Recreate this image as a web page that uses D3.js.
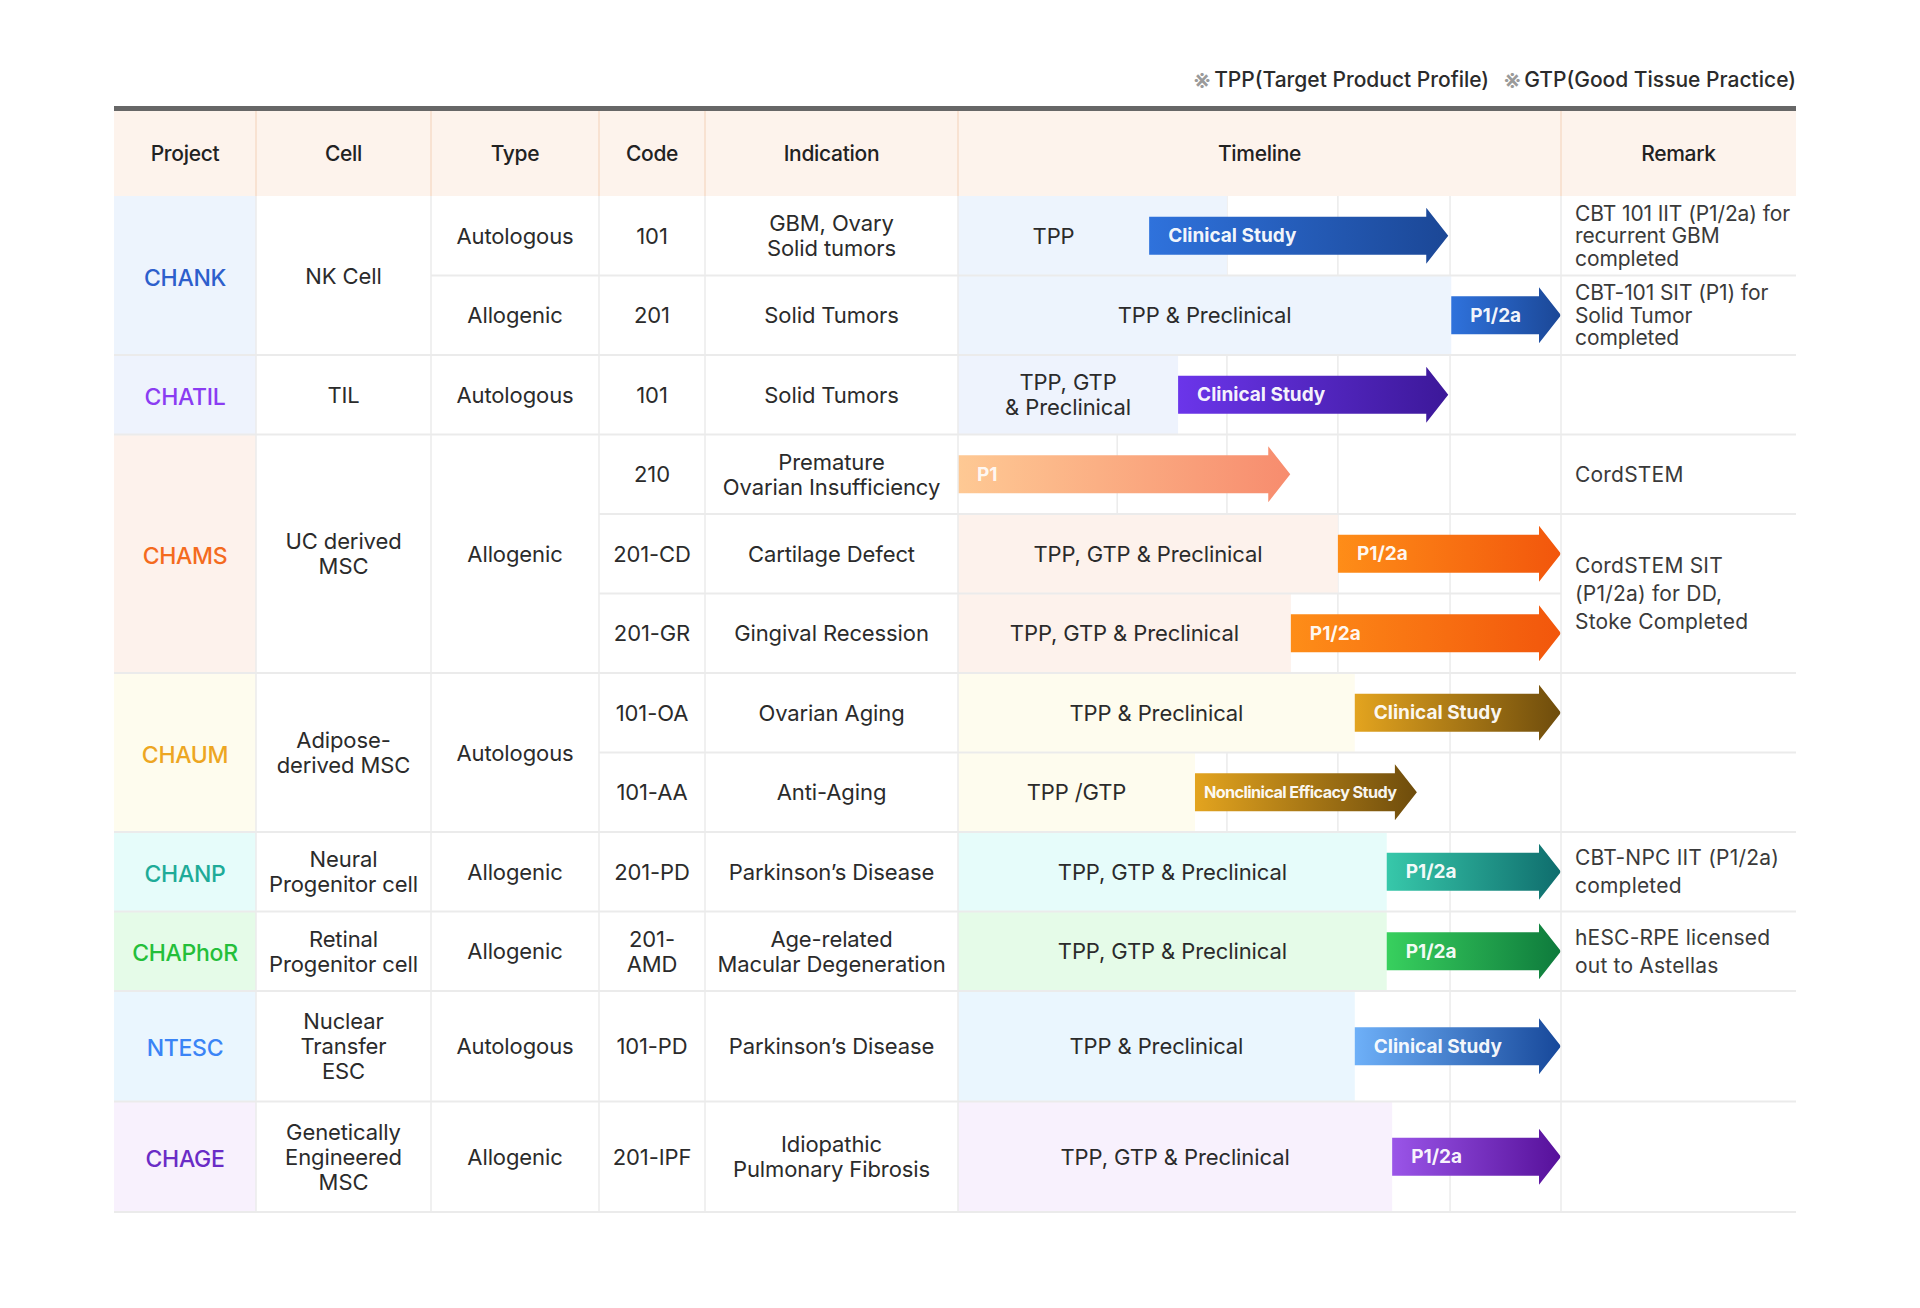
<!DOCTYPE html>
<html>
<head>
<meta charset="utf-8">
<script src="https://cdn.jsdelivr.net/npm/d3@7"></script>
<style>
  html, body { margin: 0; padding: 0; background: #fff; }
  svg { display: block; font-family: "Inter", "Noto Sans", sans-serif; }
</style>
</head>
<body>
<div id="chart"></div>
<script>
// ---- data ----
const headers = ["Project", "Cell", "Type", "Code", "Indication", "Timeline", "Remark"];
const legendItems = ["TPP(Target Product Profile)", "GTP(Good Tissue Practice)"];

const projectNames = ["CHANK", "CHATIL", "CHAMS", "CHAUM", "CHANP", "CHAPhoR", "NTESC", "CHAGE"];
const projectRowCounts = [2, 1, 3, 2, 1, 1, 1, 1];
const cellLabels = ["NK Cell", "TIL", "UC derived\nMSC", "Adipose-\nderived MSC", "Neural\nProgenitor cell",
  "Retinal\nProgenitor cell", "Nuclear\nTransfer\nESC", "Genetically\nEngineered\nMSC"];

// [label, rows spanned]
const typeLabels = [["Autologous", 1], ["Allogenic", 1], ["Autologous", 1], ["Allogenic", 3], ["Autologous", 2],
  ["Allogenic", 1], ["Allogenic", 1], ["Autologous", 1], ["Allogenic", 1]];

const codes = ["101", "201", "101", "210", "201-CD", "201-GR", "101-OA", "101-AA", "201-PD", "201-\nAMD", "101-PD", "201-IPF"];
const indications = ["GBM, Ovary\nSolid tumors", "Solid Tumors", "Solid Tumors", "Premature\nOvarian Insufficiency",
  "Cartilage Defect", "Gingival Recession", "Ovarian Aging", "Anti-Aging", "Parkinson\u2019s Disease",
  "Age-related\nMacular Degeneration", "Parkinson\u2019s Disease", "Idiopathic\nPulmonary Fibrosis"];

// timeline, in % of the timeline column
const timelineGrid = [26.4, 44.6, 63.0, 81.6];
const stageLabels = ["TPP", "TPP & Preclinical", "TPP, GTP\n& Preclinical", "", "TPP, GTP & Preclinical",
  "TPP, GTP & Preclinical", "TPP & Preclinical", "TPP /GTP", "TPP, GTP & Preclinical", "TPP, GTP & Preclinical",
  "TPP & Preclinical", "TPP, GTP & Preclinical"];
const stageEnd = [44.6, 81.8, 36.5, 0, 63.0, 55.2, 65.8, 39.3, 71.1, 71.1, 65.8, 72.0];
const arrowStart = [31.7, 81.8, 36.5, 0, 63.0, 55.2, 65.8, 39.3, 71.1, 71.1, 65.8, 72.0];
const arrowEnd = [81.3, 100, 81.3, 55.1, 100, 100, 100, 76.1, 100, 100, 100, 100];
const arrowLabels = ["Clinical Study", "P1/2a", "Clinical Study", "P1", "P1/2a", "P1/2a", "Clinical Study",
  "Nonclinical Efficacy Study", "P1/2a", "P1/2a", "Clinical Study", "P1/2a"];

// [text, rows spanned]
const remarks = [["CBT 101 IIT (P1/2a) for\nrecurrent GBM\ncompleted", 1], ["CBT-101 SIT (P1) for\nSolid Tumor\ncompleted", 1],
  ["", 1], ["CordSTEM", 1], ["CordSTEM SIT\n(P1/2a) for DD,\nStoke Completed", 2], ["", 1], ["", 1],
  ["CBT-NPC IIT (P1/2a)\ncompleted", 1], ["hESC-RPE licensed\nout to Astellas", 1], ["", 1], ["", 1]];

// ---- styles ----
const palette = {
  CHANK:   { text: "#2d5fcc", bg: "#edf4fd", a0: "#2f72dc", a1: "#1b4796" },
  CHATIL:  { text: "#8a3cf2", bg: "#eef3fd", a0: "#6b35ea", a1: "#3c1899" },
  CHAMS:   { text: "#f46b1e", bg: "#fdf2ec", a0: "#fe8d18", a1: "#f2560c", l0: "#fec994", l1: "#f78c6e" },
  CHAUM:   { text: "#eda622", bg: "#fefcee", a0: "#e3a41f", a1: "#6e4c0c" },
  CHANP:   { text: "#1eab98", bg: "#e6fcfa", a0: "#37c8aa", a1: "#0f6d6d" },
  CHAPhoR: { text: "#24bf3a", bg: "#e5fbe8", a0: "#38d05e", a1: "#0e7a3c" },
  NTESC:   { text: "#3a84f6", bg: "#eaf6fe", a0: "#6eb0f8", a1: "#17489a" },
  CHAGE:   { text: "#6a2cc6", bg: "#f8f1fd", a0: "#9a55e8", a1: "#56109a" }
};
const colX = [114, 256, 431, 599, 705, 958, 1561, 1796];
const headTop = 110, headBottom = 196;
const textColor = "#2b2b2b", gridColor = "#ebebeb";
const bodyFont = 22;

const W = 1920, H = 1308;
const svg = d3.select("#chart").append("svg").attr("width", W).attr("height", H);
const defs = svg.append("defs");

// row -> project index
const rowProject = [];
projectRowCounts.forEach((n, p) => { for (let i = 0; i < n; i++) rowProject.push(p); });
const nRows = rowProject.length;

// row heights: single-row projects whose cell label needs 3 lines get taller rows
const rowH = rowProject.map(p => (projectRowCounts[p] === 1 && cellLabels[p].split("\n").length >= 3) ? 110.5 : 79.5);
const rowY = [headBottom];
rowH.forEach((h, i) => rowY.push(rowY[i] + h));
const bodyBottom = rowY[nRows];

// spans -> cells
function spanCells(spans) {
  let r = 0;
  return spans.map(([label, n]) => { const c = { label, r0: r, r1: r + n }; r += n; return c; });
}
const projCells = spanCells(projectNames.map((n, i) => [n, projectRowCounts[i]]));
const cellCells = spanCells(cellLabels.map((n, i) => [n, projectRowCounts[i]]));
const typeCells = spanCells(typeLabels);
const codeCells = spanCells(codes.map(c => [c, 1]));
const indCells = spanCells(indications.map(c => [c, 1]));
const remarkCells = spanCells(remarks);

const xT = d3.scaleLinear().domain([0, 100]).range([colX[5], colX[6]]);

function multiText(g, text, x, yc, lh, attrs) {
  const lines = text.split("\n");
  const t = g.append("text").attr("x", x).attr("y", yc);
  Object.entries(attrs || {}).forEach(([k, v]) => t.attr(k, v));
  lines.forEach((ln, i) => {
    t.append("tspan").attr("x", x).attr("y", yc + (i - (lines.length - 1) / 2) * lh)
      .attr("dominant-baseline", "central").text(ln);
  });
  return t;
}

// ---- header ----
svg.append("rect").attr("x", colX[0]).attr("y", headTop).attr("width", colX[7] - colX[0])
  .attr("height", headBottom - headTop).attr("fill", "#fdf3ec");
colX.slice(1, 7).forEach(x => {
  svg.append("line").attr("x1", x).attr("x2", x).attr("y1", headTop).attr("y2", headBottom)
    .attr("stroke", "#f6dcca").attr("stroke-width", 1.5);
});
headers.forEach((h, i) => {
  svg.append("text").attr("x", (colX[i] + colX[i + 1]) / 2).attr("y", (headTop + headBottom) / 2)
    .attr("text-anchor", "middle").attr("dominant-baseline", "central")
    .attr("font-size", 21).attr("font-weight", 500).attr("letter-spacing", -0.3)
    .attr("fill", "#222").text(h);
});

// ---- project column backgrounds ----
projCells.forEach(c => {
  svg.append("rect").attr("x", colX[0]).attr("y", rowY[c.r0]).attr("width", colX[1] - colX[0])
    .attr("height", rowY[c.r1] - rowY[c.r0]).attr("fill", palette[c.label].bg);
});

// ---- timeline grid ----
svg.selectAll(".tgrid").data(timelineGrid).join("line").attr("class", "tgrid")
  .attr("x1", d => xT(d)).attr("x2", d => xT(d)).attr("y1", headBottom).attr("y2", bodyBottom)
  .attr("stroke", gridColor).attr("stroke-width", 1.5);

// ---- timeline stages & arrows ----
const barH = 38, headHgt = 56, headLen = 22;
for (let r = 0; r < nRows; r++) {
  const pal = palette[projectNames[rowProject[r]]];
  const yc = (rowY[r] + rowY[r + 1]) / 2;
  if (stageEnd[r] > 0) {
    svg.append("rect").attr("x", xT(0)).attr("y", rowY[r]).attr("width", xT(stageEnd[r]) - xT(0))
      .attr("height", rowH[r]).attr("fill", pal.bg);
  }
  const light = arrowLabels[r] === "P1" && pal.l0;
  const gid = "grad" + r;
  const grad = defs.append("linearGradient").attr("id", gid).attr("x1", 0).attr("x2", 1).attr("y1", 0).attr("y2", 0);
  grad.append("stop").attr("offset", 0).attr("stop-color", light ? pal.l0 : pal.a0);
  grad.append("stop").attr("offset", 1).attr("stop-color", light ? pal.l1 : pal.a1);

  const x0 = xT(arrowStart[r]), x2 = xT(arrowEnd[r]), x1 = x2 - headLen;
  const pts = [[x0, yc - barH / 2], [x1, yc - barH / 2], [x1, yc - headHgt / 2], [x2, yc],
    [x1, yc + headHgt / 2], [x1, yc + barH / 2], [x0, yc + barH / 2]];
  svg.append("path").attr("d", d3.line()(pts) + "Z").attr("fill", `url(#${gid})`);

  const lab = svg.append("text").attr("x", x0 + 19).attr("y", yc).attr("dominant-baseline", "central")
    .attr("font-size", 19).attr("font-weight", 700).attr("letter-spacing", 0)
    .attr("fill", "#fff").attr("fill-opacity", light ? 0.9 : 0.96).text(arrowLabels[r]);
  const w = lab.node().getComputedTextLength();
  const avail = x2 - x0 - 26;
  if (w + 19 > avail) {
    // long label: tighter and smaller so it fits the bar
    lab.attr("x", x0 + 9).attr("letter-spacing", -0.6);
    const w2 = lab.node().getComputedTextLength();
    lab.attr("font-size", 19 * (avail - 1) / w2);
  }

  if (stageLabels[r]) {
    const sEnd = arrowStart[r] > 0 ? xT(arrowStart[r]) : xT(stageEnd[r]);
    multiText(svg, stageLabels[r], (xT(0) + sEnd) / 2, yc, 25,
      { "text-anchor": "middle", "font-size": bodyFont, "letter-spacing": -0.1, fill: textColor });
  }
}

// ---- body grid lines ----
colX.slice(1, 7).forEach(x => {
  svg.append("line").attr("x1", x).attr("x2", x).attr("y1", headBottom).attr("y2", bodyBottom)
    .attr("stroke", gridColor).attr("stroke-width", 1.5);
});
const columnCells = [projCells, cellCells, typeCells, codeCells, indCells, codeCells, remarkCells];
columnCells.forEach((cells, ci) => {
  cells.forEach(c => {
    svg.append("line").attr("x1", colX[ci]).attr("x2", colX[ci + 1])
      .attr("y1", rowY[c.r1]).attr("y2", rowY[c.r1])
      .attr("stroke", gridColor).attr("stroke-width", 2);
  });
});

// ---- body texts ----
function cellTexts(cells, ci) {
  cells.forEach(c => {
    if (!c.label) return;
    const yc = (rowY[c.r0] + rowY[c.r1]) / 2;
    multiText(svg, c.label, (colX[ci] + colX[ci + 1]) / 2, yc, 25,
      { "text-anchor": "middle", "font-size": bodyFont, "letter-spacing": -0.1, fill: textColor });
  });
}
projCells.forEach(c => {
  svg.append("text").attr("x", (colX[0] + colX[1]) / 2).attr("y", (rowY[c.r0] + rowY[c.r1]) / 2 + 2)
    .attr("text-anchor", "middle").attr("dominant-baseline", "central")
    .attr("font-size", 23).attr("font-weight", 500).attr("letter-spacing", -0.3)
    .attr("fill", palette[c.label].text).text(c.label);
});
cellTexts(cellCells, 1);
cellTexts(typeCells, 2);
cellTexts(codeCells, 3);
cellTexts(indCells, 4);

remarkCells.forEach(c => {
  if (!c.label) return;
  const n = c.label.split("\n").length;
  const h = rowY[c.r1] - rowY[c.r0];
  const lh = Math.min(28, h / (n + 0.5));
  multiText(svg, c.label, colX[6] + 14, (rowY[c.r0] + rowY[c.r1]) / 2, lh,
    { "text-anchor": "start", "font-size": 21, "letter-spacing": n === 3 && lh < 24 ? -0.1 : 0.2, fill: "#3a3a3a" });
});

// ---- top rule ----
svg.append("rect").attr("x", colX[0]).attr("y", 106).attr("width", colX[7] - colX[0]).attr("height", 5)
  .attr("fill", "#676767");

// ---- legend ----
const leg = svg.append("text").attr("x", colX[7]).attr("y", 79).attr("text-anchor", "end")
  .attr("dominant-baseline", "central").attr("font-size", 21).attr("font-weight", 500)
  .attr("letter-spacing", 0).attr("fill", "#2b2b2b");
legendItems.forEach((t, i) => {
  leg.append("tspan").attr("fill", "#9a9a9a").attr("font-size", 26)
    .attr("dx", i ? 14 : 0).text("\u203b");
  leg.append("tspan").attr("dx", 3).text(t);
});
</script>
</body>
</html>
